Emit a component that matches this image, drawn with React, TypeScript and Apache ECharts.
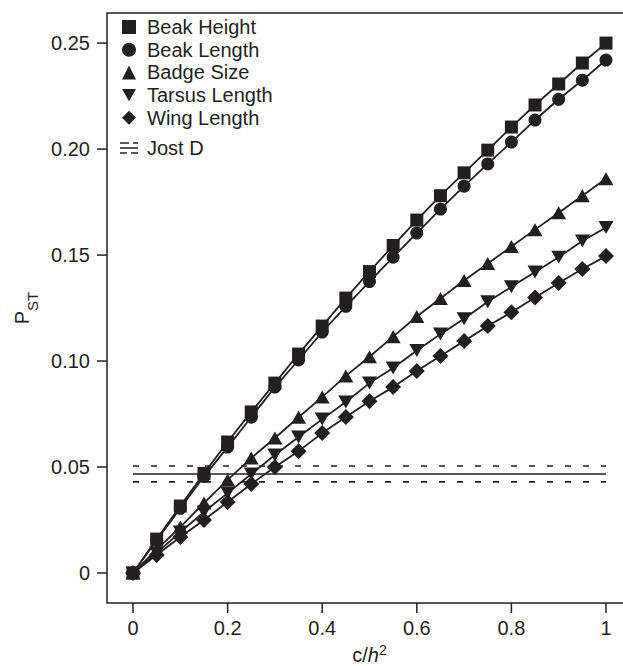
import React, { useEffect, useRef } from "react";
import * as echarts from "echarts";

const xs = [0, 0.05, 0.1, 0.15, 0.2, 0.25, 0.3, 0.35, 0.4, 0.45, 0.5, 0.55, 0.6, 0.65, 0.7, 0.75, 0.8, 0.85, 0.9, 0.95, 1];
const beakHeight = [0, 0.016, 0.0316, 0.047, 0.0618, 0.076, 0.0896, 0.1033, 0.1165, 0.1297, 0.1422, 0.1545, 0.1665, 0.178, 0.1888, 0.1995, 0.2104, 0.2208, 0.2307, 0.2406, 0.25];
const beakLength = [0, 0.0155, 0.0305, 0.0455, 0.0594, 0.0735, 0.0877, 0.1005, 0.1137, 0.1258, 0.1375, 0.149, 0.1604, 0.1717, 0.1825, 0.193, 0.2033, 0.2137, 0.2235, 0.2325, 0.242];
const badgeSize = [0, 0.011, 0.0217, 0.033, 0.0439, 0.0542, 0.0637, 0.0735, 0.083, 0.093, 0.102, 0.1115, 0.121, 0.1295, 0.138, 0.146, 0.154, 0.162, 0.17, 0.178, 0.186];
const tarsusLength = [0, 0.0095, 0.0193, 0.0288, 0.0377, 0.0467, 0.0557, 0.0642, 0.0726, 0.0807, 0.0896, 0.0967, 0.105, 0.1127, 0.12, 0.128, 0.135, 0.142, 0.149, 0.1566, 0.163];
const wingLength = [0, 0.0085, 0.017, 0.025, 0.0335, 0.042, 0.05, 0.0575, 0.066, 0.0736, 0.081, 0.0877, 0.0953, 0.1024, 0.1094, 0.1165, 0.123, 0.13, 0.1368, 0.1434, 0.1495];
const jostD = 0.0467;
const jostUpper = 0.0505;
const jostLower = 0.043;

const xTicks = [0, 0.2, 0.4, 0.6, 0.8, 1];
const yTicks = [0, 0.05, 0.1, 0.15, 0.2, 0.25];

const seriesNames = ["Beak Height", "Beak Length", "Badge Size", "Tarsus Length", "Wing Length"];
const seriesValues = [beakHeight, beakLength, badgeSize, tarsusLength, wingLength];

const DOWN_TRI = "path://M0,0L20,0L10,17.3Z";
const JOST_ICON =
  "path://M0,0h9v1.6h-9z M13,0h5v1.6h-5z M0,5h18v1.6h-18z M0,10h7v1.6h-7z M11,10h7v1.6h-7z";
const symbols = ["rect", "circle", "triangle", DOWN_TRI, "diamond"];
const symbolSizes: any[] = [13, 13, [15, 13], [15, 13], [16, 16]];

const INK = "#231f20";
const FONT = "'Liberation Sans', Arial, Helvetica, sans-serif";
const TICK_LEN = 10;
const X_MIN = -0.055;
const X_MAX = 1.055;
const Y_MIN = -0.01415;
const Y_MAX = 0.2642;

export default function App() {
  const ref = useRef<HTMLDivElement>(null);
  useEffect(() => {
    if (!ref.current) return;
    const chart = echarts.init(ref.current, undefined, { renderer: "svg" });
    const mainSeries = seriesNames.map((name, i) => ({
      name,
      type: "line",
      clip: false,
      data: xs.map((x, j) => [x, seriesValues[i][j]]),
      symbol: symbols[i],
      symbolSize: symbolSizes[i],
      lineStyle: { color: INK, width: 1.8 },
      itemStyle: { color: INK, borderWidth: 0 },
      z: 3,
    }));
    const x0 = xs[0];
    const x1 = xs[xs.length - 1];
    const jostSeries = [
      { name: "Jost D", v: jostD, dashed: false },
      { name: "Jost D upper", v: jostUpper, dashed: true },
      { name: "Jost D lower", v: jostLower, dashed: true },
    ].map((s) => ({
      name: s.name,
      type: "line",
      clip: false,
      data: [
        [x0, s.v],
        [x1, s.v],
      ],
      symbol: "none",
      lineStyle: { color: INK, width: 1.6, type: s.dashed ? [6, 12] : "solid" },
      itemStyle: { color: INK },
      z: 2,
    }));
    chart.setOption({
      animation: false,
      textStyle: { fontFamily: FONT },
      grid: {
        left: 107,
        top: 13,
        width: 525,
        height: 590,
        show: true,
        borderColor: INK,
        borderWidth: 1.5,
        backgroundColor: "transparent",
        containLabel: false,
        outerBoundsMode: "none",
      },
      legend: [
        {
          data: seriesNames.map((n, i) => ({ name: n, icon: symbols[i] })),
          orient: "vertical",
          left: 122,
          top: 17,
          padding: 0,
          itemWidth: 14,
          itemHeight: 14,
          itemGap: 2.7,
          selectedMode: false,
          textStyle: { fontSize: 20, lineHeight: 20, color: INK, fontFamily: FONT, padding: [0, 0, 0, 6] },
        },
        {
          data: [{ name: "Jost D", icon: JOST_ICON }],
          orient: "vertical",
          left: 120,
          top: 138,
          padding: 0,
          itemWidth: 18,
          itemHeight: 12,
          selectedMode: false,
          textStyle: { fontSize: 20, lineHeight: 20, color: INK, fontFamily: FONT, padding: [0, 0, 0, 4] },
        },
      ],
      xAxis: {
        type: "value",
        position: "bottom",
        min: X_MIN,
        max: X_MAX,
        name: "{a|c/}{i|h}{s|2}",
        nameLocation: "middle",
        nameGap: 36,
        nameTextStyle: {
          rich: {
            a: { fontSize: 20, color: INK, fontFamily: FONT, lineHeight: 22, verticalAlign: "bottom" },
            i: { fontSize: 20, color: INK, fontFamily: FONT, fontStyle: "italic", lineHeight: 22, verticalAlign: "bottom" },
            s: { fontSize: 14, color: INK, fontFamily: FONT, lineHeight: 14, verticalAlign: "top" },
          },
        },
        axisLine: { show: false, onZero: false },
        splitLine: { show: false },
        axisTick: { show: false },
        axisLabel: {
          customValues: xTicks,
          fontSize: 20,
          color: INK,
          fontFamily: FONT,
          margin: 15,
          formatter: (v: number) => String(v),
        },
      },
      yAxis: {
        type: "value",
        position: "left",
        min: Y_MIN,
        max: Y_MAX,
        name: "{p|P}{s|ST}",
        nameLocation: "middle",
        nameGap: 64,
        nameRotate: 90,
        nameTextStyle: {
          rich: {
            p: { fontSize: 20, color: INK, fontFamily: FONT, lineHeight: 28, verticalAlign: "top" },
            s: { fontSize: 15, color: INK, fontFamily: FONT, lineHeight: 15, verticalAlign: "bottom" },
          },
        },
        axisLine: { show: false, onZero: false },
        splitLine: { show: false },
        axisTick: { show: false },
        axisLabel: {
          customValues: yTicks,
          fontSize: 20,
          color: INK,
          fontFamily: FONT,
          margin: 17,
          formatter: (v: number) => (v === 0 ? "0" : v.toFixed(2)),
        },
      },
      series: [...jostSeries, ...mainSeries],
    });
    // tick marks outside the box, placed through the chart's own scales
    try {
      const finder = { gridIndex: 0 };
      const graphics: any[] = [];
      xTicks.forEach((v) => {
        const top = chart.convertToPixel(finder, [v, Y_MIN]) as number[];
        graphics.push({
          type: "line",
          silent: true,
          z: 50,
          shape: { x1: top[0], y1: top[1], x2: top[0], y2: top[1] + TICK_LEN },
          style: { stroke: INK, lineWidth: 1.5 },
        });
      });
      yTicks.forEach((v) => {
        const p = chart.convertToPixel(finder, [X_MIN, v]) as number[];
        graphics.push({
          type: "line",
          silent: true,
          z: 50,
          shape: { x1: p[0] - TICK_LEN, y1: p[1], x2: p[0], y2: p[1] },
          style: { stroke: INK, lineWidth: 1.5 },
        });
      });
      chart.setOption({ graphic: graphics });
    } catch (e) {
      // ignore
    }
    return () => chart.dispose();
  }, []);
  return (
    <div
      ref={ref}
      style={{ position: "fixed", left: 0, top: 0, width: 623, height: 666, background: "#fff" }}
    />
  );
}
